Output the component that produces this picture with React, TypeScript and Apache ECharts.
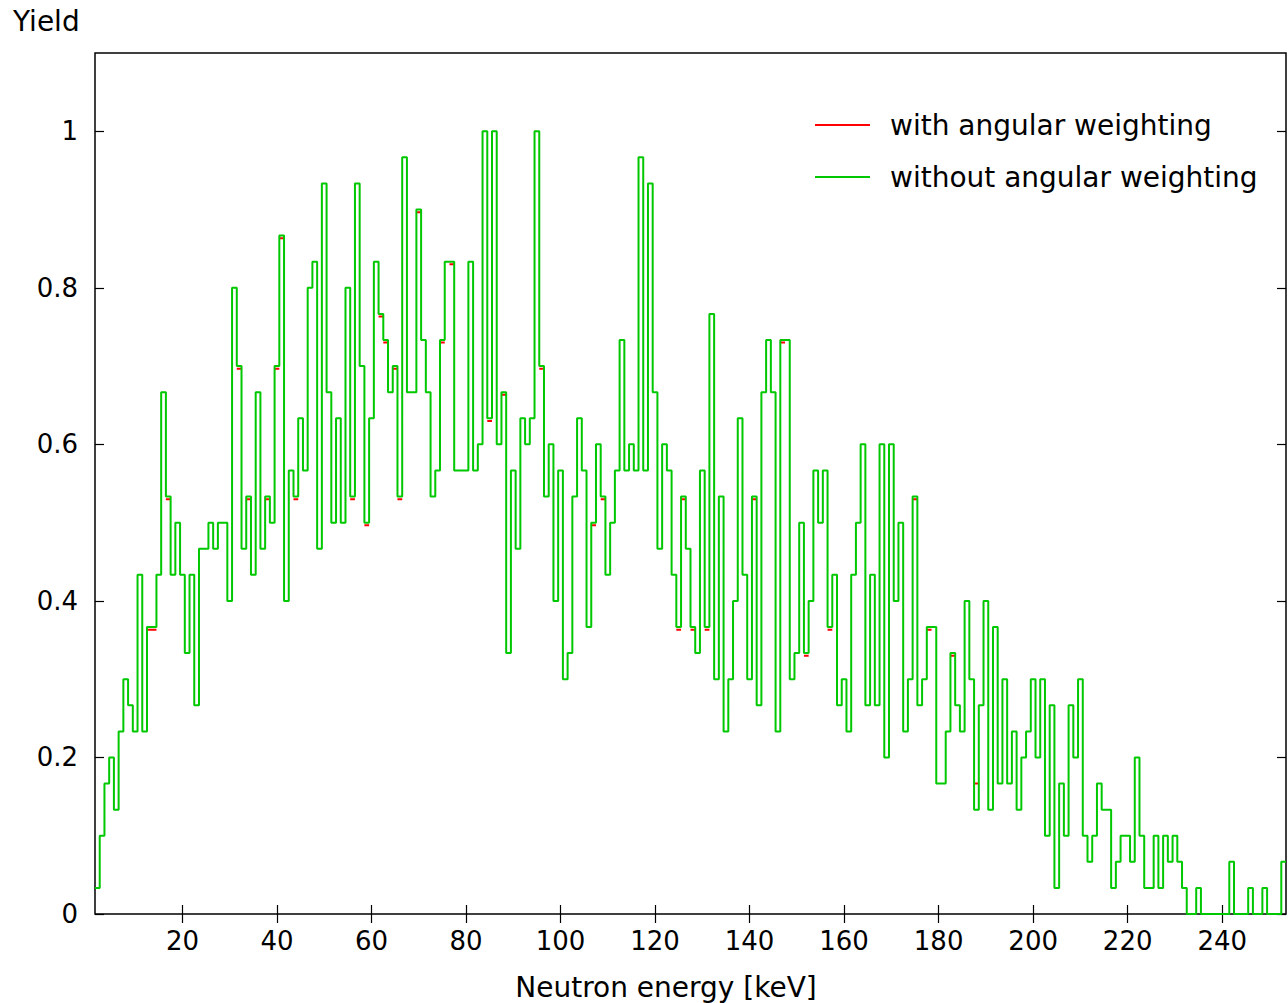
import React, { useEffect, useRef } from "react";
import * as echarts from "echarts";

// Bin centres: BIN_START_KEV, BIN_START_KEV + BIN_WIDTH_KEV, ... (one per value below)
const BIN_START_KEV = 2;
const BIN_WIDTH_KEV = 1;

// Yield without angular weighting, one value per 1 keV bin (2 .. 253 keV)
const yieldWithout: number[] = [
  // 2-21
  0.0333, 0.1, 0.1667, 0.2, 0.1333, 0.2333, 0.3, 0.2667, 0.2333, 0.4333,
  0.2333, 0.3667, 0.3667, 0.4333, 0.6667, 0.5333, 0.4333, 0.5, 0.4333, 0.3333,
  // 22-41
  0.4333, 0.2667, 0.4667, 0.4667, 0.5, 0.4667, 0.5, 0.5, 0.4, 0.8,
  0.7, 0.4667, 0.5333, 0.4333, 0.6667, 0.4667, 0.5333, 0.5, 0.7, 0.8667,
  // 42-61
  0.4, 0.5667, 0.5333, 0.6333, 0.5667, 0.8, 0.8333, 0.4667, 0.9333, 0.6667,
  0.5, 0.6333, 0.5, 0.8, 0.5333, 0.9333, 0.7, 0.5, 0.6333, 0.8333,
  // 62-81
  0.7667, 0.7333, 0.6667, 0.7, 0.5333, 0.9667, 0.6667, 0.6667, 0.9, 0.7333,
  0.6667, 0.5333, 0.5667, 0.7333, 0.8333, 0.8333, 0.5667, 0.5667, 0.5667, 0.8333,
  // 82-101
  0.5667, 0.6, 1.0, 0.6333, 1.0, 0.6, 0.6667, 0.3333, 0.5667, 0.4667,
  0.6333, 0.6, 0.6333, 1.0, 0.7, 0.5333, 0.6, 0.4, 0.5667, 0.3,
  // 102-121
  0.3333, 0.5333, 0.6333, 0.5667, 0.3667, 0.5, 0.6, 0.5333, 0.4333, 0.5,
  0.5667, 0.7333, 0.5667, 0.6, 0.5667, 0.9667, 0.5667, 0.9333, 0.6667, 0.4667,
  // 122-141
  0.6, 0.5667, 0.4333, 0.3667, 0.5333, 0.4667, 0.3667, 0.3333, 0.5667, 0.3667,
  0.7667, 0.3, 0.5333, 0.2333, 0.3, 0.4, 0.6333, 0.4333, 0.3, 0.5333,
  // 142-161
  0.2667, 0.6667, 0.7333, 0.6667, 0.2333, 0.7333, 0.7333, 0.3, 0.3333, 0.5,
  0.3333, 0.4, 0.5667, 0.5, 0.5667, 0.3667, 0.4333, 0.2667, 0.3, 0.2333,
  // 162-181
  0.4333, 0.5, 0.6, 0.2667, 0.4333, 0.2667, 0.6, 0.2, 0.6, 0.4,
  0.5, 0.2333, 0.3, 0.5333, 0.2667, 0.3, 0.3667, 0.3667, 0.1667, 0.1667,
  // 182-201
  0.2333, 0.3333, 0.2667, 0.2333, 0.4, 0.3, 0.1333, 0.2667, 0.4, 0.1333,
  0.3667, 0.1667, 0.3, 0.1667, 0.2333, 0.1333, 0.2, 0.2333, 0.3, 0.2,
  // 202-221
  0.3, 0.1, 0.2667, 0.0333, 0.1667, 0.1, 0.2667, 0.2, 0.3, 0.1,
  0.0667, 0.1, 0.1667, 0.1333, 0.1333, 0.0333, 0.0667, 0.1, 0.1, 0.0667,
  // 222-241
  0.2, 0.1, 0.0333, 0.0333, 0.1, 0.0333, 0.1, 0.0667, 0.1, 0.0667,
  0.0333, 0, 0, 0.0333, 0, 0, 0, 0, 0, 0,
  // 242-253
  0.0667, 0, 0, 0, 0.0333, 0, 0, 0.0333, 0, 0,
  0, 0.0667,
];

// Bins where the angular-weighted yield differs from the unweighted one
const angularDiffEnergies: number[] = [
  13, 14, 17, 32, 34, 38, 40, 41, 44, 56, 59, 62, 63, 65, 66, 70, 75, 77,
  85, 88, 96, 107, 109, 125, 126, 128, 131, 141, 147, 152, 157, 175, 178, 183, 188,
];
const angularDiffValues: number[] = [
  0.3633, 0.3633, 0.53, 0.6967, 0.53, 0.53, 0.6967, 0.8633, 0.53, 0.53, 0.4967, 0.7633, 0.73, 0.6967, 0.53, 0.8967, 0.73, 0.83,
  0.63, 0.6633, 0.6967, 0.4967, 0.53, 0.3633, 0.53, 0.3633, 0.3633, 0.53, 0.73, 0.33, 0.3633, 0.53, 0.3633, 0.33, 0.1667,
];

const xTicks: number[] = [20, 40, 60, 80, 100, 120, 140, 160, 180, 200, 220, 240];
const yTicks: number[] = [0, 0.2, 0.4, 0.6, 0.8, 1];
const seriesNames: string[] = ["with angular weighting", "without angular weighting"];
const seriesColors: string[] = ["#ff0000", "#00c800"];

const FONT = "DejaVu Sans";
const FS_TICK = 26;
const FS_TEXT = 28;

export default function App() {
  const ref = useRef<HTMLDivElement>(null);

  useEffect(() => {
    if (!ref.current) return;
    const chart = echarts.init(ref.current, null, { renderer: "svg" });

    const energies = yieldWithout.map((_, i) => BIN_START_KEV + i * BIN_WIDTH_KEV);
    const half = BIN_WIDTH_KEV / 2;

    // Unweighted: histogram steps through every bin centre
    const greenData = [
      [energies[0] - half, yieldWithout[0]],
      ...yieldWithout.map((v, i) => [energies[i], v]),
      [energies[energies.length - 1] + half, yieldWithout[yieldWithout.length - 1]],
    ];

    // Weighted: identical except in the listed bins, where it shows up from under the green
    const redData: any[] = [];
    angularDiffEnergies.forEach((e, k) => {
      redData.push([e - half, angularDiffValues[k]]);
      redData.push([e + half, angularDiffValues[k]]);
      redData.push([e + half, "-"]);
    });

    const xMin = energies[0] - half;
    const xMax = energies[energies.length - 1] + half;

    const tickStyle = { color: "#000", width: 1.2 };
    const labelStyle = { fontFamily: FONT, fontSize: FS_TICK, color: "#000" };

    chart.setOption({
      animation: false,
      backgroundColor: "#fff",
      grid: {
        left: 95,
        top: 53,
        right: 2,
        bottom: 89,
        show: true,
        borderColor: "#000",
        borderWidth: 1.5,
        backgroundColor: "transparent",
        containLabel: false,
        outerBoundsMode: "none",
      },
      xAxis: [
        {
          type: "value",
          min: xMin,
          max: xMax,
          position: "bottom",
          axisLine: { show: false },
          splitLine: { show: false },
          axisTick: { show: true, inside: true, length: 9, customValues: xTicks, lineStyle: tickStyle },
          axisLabel: { ...labelStyle, margin: 14, customValues: xTicks, formatter: (v: number) => String(v) },
        },
        {
          type: "value",
          min: xMin,
          max: xMax,
          position: "top",
          axisLine: { show: false },
          splitLine: { show: false },
          axisTick: { show: true, inside: true, length: 9, customValues: xTicks, lineStyle: tickStyle },
          axisLabel: { show: false },
        },
      ],
      yAxis: [
        {
          type: "value",
          min: 0,
          max: 1.1,
          position: "left",
          axisLine: { show: false },
          splitLine: { show: false },
          axisTick: { show: true, inside: true, length: 9, customValues: yTicks, lineStyle: tickStyle },
          axisLabel: {
            ...labelStyle,
            margin: 17,
            customValues: yTicks,
            formatter: (v: number) => (v === 0 ? "0" : v === 1 ? "1" : v.toFixed(1)),
          },
        },
        {
          type: "value",
          min: 0,
          max: 1.1,
          position: "right",
          axisLine: { show: false },
          splitLine: { show: false },
          axisTick: { show: true, inside: true, length: 9, customValues: yTicks, lineStyle: tickStyle },
          axisLabel: { show: false },
        },
      ],
      series: [
        {
          name: seriesNames[0],
          type: "line",
          data: redData,
          connectNulls: false,
          showSymbol: false,
          symbol: "none",
          lineStyle: { color: seriesColors[0], width: 2 },
          itemStyle: { color: seriesColors[0] },
          xAxisIndex: 0,
          yAxisIndex: 0,
          z: 2,
          clip: true,
        },
        {
          name: seriesNames[1],
          type: "line",
          step: "middle",
          data: greenData,
          showSymbol: false,
          symbol: "none",
          lineStyle: { color: seriesColors[1], width: 2 },
          itemStyle: { color: seriesColors[1] },
          xAxisIndex: 0,
          yAxisIndex: 0,
          z: 3,
          clip: true,
        },
      ],
      graphic: [
        {
          type: "text",
          left: 13,
          top: 7,
          style: { text: "Yield", fontFamily: FONT, fontSize: FS_TEXT, fill: "#000" },
        },
        {
          type: "text",
          x: 666,
          y: 987,
          style: {
            text: "Neutron energy [keV]",
            fontFamily: FONT,
            fontSize: FS_TEXT,
            fill: "#000",
            textAlign: "center",
            textVerticalAlign: "middle",
          },
        },
        {
          type: "line",
          shape: { x1: 815, y1: 125, x2: 870, y2: 125 },
          style: { stroke: seriesColors[0], lineWidth: 2 },
        },
        {
          type: "text",
          x: 890,
          y: 125,
          style: {
            text: seriesNames[0],
            fontFamily: FONT,
            fontSize: FS_TEXT,
            fill: "#000",
            textVerticalAlign: "middle",
          },
        },
        {
          type: "line",
          shape: { x1: 815, y1: 177, x2: 870, y2: 177 },
          style: { stroke: seriesColors[1], lineWidth: 2 },
        },
        {
          type: "text",
          x: 890,
          y: 177,
          style: {
            text: seriesNames[1],
            fontFamily: FONT,
            fontSize: FS_TEXT,
            fill: "#000",
            textVerticalAlign: "middle",
          },
        },
      ],
    });

    return () => chart.dispose();
  }, []);

  return (
    <div
      ref={ref}
      style={{ position: "absolute", left: 0, top: 0, width: 1288, height: 1003 }}
    />
  );
}
